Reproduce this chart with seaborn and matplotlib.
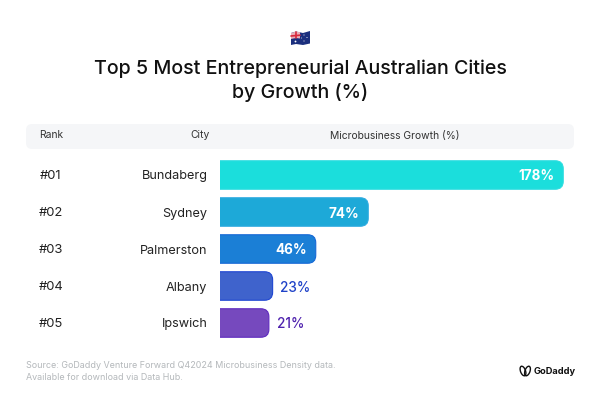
import matplotlib
matplotlib.use("Agg")
import matplotlib.pyplot as plt
import matplotlib.transforms as mtrans
from matplotlib.patches import FancyBboxPatch, Ellipse, Polygon, Rectangle
import seaborn as sns
import pandas as pd

ranks = ["#01", "#02", "#03", "#04", "#05"]
cities = ["Bundaberg", "Sydney", "Palmerston", "Albany", "Ipswich"]
growth = [178, 74, 46, 23, 21]
bar_colors = ["#1BDEDC", "#1DA9D8", "#1B7FD6", "#3F63CC", "#7649BE"]
edge_colors = ["#2FDDE0", "#2FABE0", "#1568D6", "#1F46D2", "#5E2ABF"]
label_colors = ["#FFFFFF", "#FFFFFF", "#FFFFFF", "#1F42C8", "#4F22AE"]
headers = ["Rank", "City", "Microbusiness Growth (%)"]
title = "Top 5 Most Entrepreneurial Australian Cities\nby Growth (%)"
source = "Source: GoDaddy Venture Forward Q42024 Microbusiness Density data.\nAvailable for download via Data Hub."

FONT = "Inter"
sns.set_theme(style="white")
plt.rcParams["font.family"] = [FONT, "DejaVu Sans"]
W, H = 600, 408
fig = plt.figure(figsize=(W / 100, H / 100), dpi=100, facecolor="white")

# page layer in pixel coordinates
bg = fig.add_axes([0, 0, 1, 1], zorder=0)
bg.set_xlim(0, W); bg.set_ylim(H, 0); bg.axis("off")

# chart axes: x pixel 220..590, y pixel 156.5..341.5
L, R, T, B = 220, 590, 156.5, 341.5
ax = fig.add_axes([L / W, 1 - B / H, (R - L) / W, (B - T) / H], zorder=1)
ax.patch.set_alpha(0)
PX = 1.875      # pixels per percentage point
STUB = 9.5      # pixels of bar before zero
df = pd.DataFrame({"city": cities, "growth": growth})
sns.barplot(data=df, y="city", x="growth", hue="city", palette=bar_colors,
            legend=False, width=0.77, ax=ax, saturation=1)
ax.set_xlim(-STUB / PX, -STUB / PX + (R - L) / PX)
ax.set_ylim(4.5, -0.5)
ax.set_xlabel(""); ax.set_ylabel("")
ax.set_xticks([])
sns.despine(ax=ax, left=True, bottom=True)
ax.tick_params(axis="y", length=0, pad=9.0, labelsize=9.15, labelcolor="#222222")

yu = (B - T) / 5
rad = 8
for i, p in enumerate(list(ax.patches)[:5]):
    bb = p.get_bbox()
    x0 = -(STUB + 20) / PX
    box = FancyBboxPatch((x0, bb.y0), bb.x1 - x0, bb.y1 - bb.y0,
                         boxstyle=f"round,pad=0,rounding_size={rad / PX}",
                         mutation_aspect=PX / yu,
                         fc=bar_colors[i], ec=edge_colors[i], lw=0.8, zorder=2)
    ax.add_patch(box)
    p.set_visible(False)
    v = growth[i]
    if v >= 40:
        ax.annotate(f"{v}%", (v, i), xytext=(-6.5, 0), textcoords="offset points",
                    ha="right", va="center_baseline", color=label_colors[i],
                    fontsize=9.7, fontweight="bold", zorder=3)
    else:
        ax.annotate(f"{v}%", (v, i), xytext=(5.5, 0), textcoords="offset points",
                    ha="left", va="center_baseline", color=label_colors[i],
                    fontsize=9.8, fontweight="medium", zorder=3)

# rank column aligned to chart categories
tr = mtrans.blended_transform_factory(bg.transData, ax.transData)
for i, r in enumerate(ranks):
    fig.text(51, i - 0.02, r, transform=tr, ha="center", va="center_baseline",
             fontsize=9.4, color="#222222")

# title
bg.text(300, 81, title, ha="center", va="center", fontsize=14.15, color="#111111",
        fontweight="medium", linespacing=1.3)

# header band
bg.add_patch(FancyBboxPatch((26, 124), 548, 25, boxstyle="round,pad=0,rounding_size=6",
                            fc="#F5F6F8", ec="none"))
for x, h in zip([51, 200, 395], headers):
    bg.text(x, 135.5, h, ha="center", va="center", fontsize=7.45, color="#333333")

# flag
bg.add_patch(Polygon([(291, 33), (296, 31.5), (303, 33), (310, 31), (310, 43.5), (303, 45), (296, 44), (291, 45)],
                     fc="#1B2F7E", ec="none"))
bg.add_patch(Polygon([(291, 33), (296, 31.5), (300, 32.2), (300, 38.5), (296, 38), (291, 39)], fc="#E8AEB8", ec="none"))
bg.plot([291, 300], [36, 35.2], color="#D9283C", lw=1.2)
bg.plot([295.5, 295.5], [31.8, 38.2], color="#D9283C", lw=1.2)
for x, y, s in [(295.5, 41.5, 1.4), (304, 35, .8), (307, 37.5, .8), (304, 41, .8), (301.5, 38, .7)]:
    bg.add_patch(Ellipse((x, y), s * 1.3, s * 1.3, fc="white", ec="none"))

# source
bg.text(26, 371.5, source, ha="left", va="center", fontsize=6.45, color="#B4B8BB", linespacing=1.3)

# logo
bg.add_patch(Ellipse((523, 371), 5, 10, angle=-20, fc="none", ec="#111111", lw=1.0))
bg.add_patch(Ellipse((527.5, 371), 5, 10, angle=20, fc="none", ec="#111111", lw=1.0))
bg.text(533.5, 371, "GoDaddy", ha="left", va="center", fontsize=6.7, fontweight="bold", color="#111111")

fig.savefig("out.png", dpi=100, facecolor="white")
